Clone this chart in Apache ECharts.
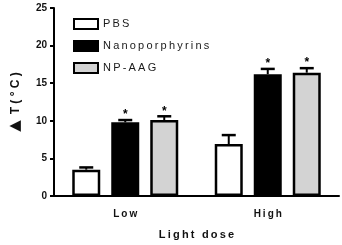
<!DOCTYPE html>
<html>
<head>
<meta charset="utf-8">
<script src="https://cdn.jsdelivr.net/npm/echarts@6/dist/echarts.min.js"></script>
<style>
  html, body { margin: 0; padding: 0; background: #fff; }
  #chart { width: 342px; height: 245px; }
</style>
</head>
<body>
<div id="chart"></div>
<script>
// data
var categories = ["Low", "High"];
var seriesNames = ["PBS", "Nanoporphyrins", "NP-AAG"];
var pbs = [3.5, 6.9];
var pbsErr = [0.3, 1.2];
var nano = [9.8, 16.2];
var nanoErr = [0.3, 0.7];
var npaag = [10.1, 16.4];
var npaagErr = [0.5, 0.6];
var nanoStar = [true, true];
var npaagStar = [true, true];
var yTicks = [0, 5, 10, 15, 20, 25];

var FONT = "Liberation Sans";
var barW = 28;
var barGapPx = 11;

// spread letters a bit, like the original figure
function spaced(s) {
    return s.split("").join("\u2009");
}

var myChart = echarts.init(document.getElementById("chart"));

function errSeries(name, vals, errs, stars, k) {
    var data = vals.map(function(v, i) {
        return [i, v, errs[i], stars && stars[i] ? 1 : 0];
    });
    return {
        name: name + "-err",
        type: "custom",
        z: 5,
        data: data,
        renderItem: function(params, api) {
            var i = api.value(0);
            var v = api.value(1);
            var e = api.value(2);
            var top = api.coord([i, v]);
            var cap = api.coord([i, v + e]);
            var x = top[0] + k * (barW + barGapPx);
            var kids = [
                { type: "line", shape: { x1: x, y1: top[1], x2: x, y2: cap[1] },
                  style: { stroke: "#000", lineWidth: 2 } },
                { type: "line", shape: { x1: x - 7, y1: cap[1], x2: x + 7, y2: cap[1] },
                  style: { stroke: "#000", lineWidth: 2.5 } }
            ];
            if (api.value(3)) {
                kids.push({ type: "text", style: { text: "*", x: x, y: cap[1] - 5,
                    fill: "#000", font: "bold 12px " + FONT, align: "center", verticalAlign: "middle" } });
            }
            return { type: "group", children: kids };
        }
    };
}

var option = {
    animation: false,
    grid: { left: 52, right: 3, top: 8, bottom: 47 },
    legend: {
        orient: "vertical",
        left: 73,
        top: 18,
        padding: 0,
        icon: "rect",
        itemWidth: 24,
        itemHeight: 10,
        itemGap: 10,
        data: seriesNames,
        formatter: function(n) { return spaced(n); },
        textStyle: { fontFamily: FONT, fontSize: 11, color: "#1a1a1a" }
    },
    xAxis: {
        type: "category",
        data: categories,
        name: spaced("Light dose"),
        nameLocation: "middle",
        nameGap: 33,
        nameTextStyle: { fontFamily: FONT, fontSize: 11, fontWeight: "bold", color: "#111" },
        axisLine: { lineStyle: { color: "#000", width: 2 } },
        axisTick: { alignWithLabel: true, length: 5, lineStyle: { color: "#000", width: 2 } },
        axisLabel: {
            fontFamily: FONT, fontSize: 10, fontWeight: "bold", color: "#111", margin: 13,
            formatter: function(v) { return spaced(v); }
        }
    },
    yAxis: {
        type: "value",
        min: yTicks[0],
        max: yTicks[yTicks.length - 1],
        interval: 5,
        name: "{tri|\u25B2}T ( ° C )",
        nameLocation: "middle",
        nameRotate: 90,
        nameGap: 31,
        nameTextStyle: {
            fontFamily: FONT, fontSize: 12, fontWeight: "bold", color: "#111",
            rich: { tri: { fontFamily: "DejaVu Sans", fontSize: 15, color: "#111", padding: [0, 6, 0, 0] } }
        },
        splitLine: { show: false },
        axisLine: { show: true, lineStyle: { color: "#000", width: 2 } },
        axisTick: { show: true, length: 4, lineStyle: { color: "#000", width: 2 } },
        axisLabel: { fontFamily: FONT, fontSize: 10, fontWeight: "bold", color: "#111", margin: 7 }
    },
    series: [
        { name: seriesNames[0], type: "bar", data: pbs, barWidth: barW, barGap: (barGapPx / barW * 100) + "%",
          itemStyle: { color: "#fff", borderColor: "#000", borderWidth: 2.5 } },
        { name: seriesNames[1], type: "bar", data: nano, barWidth: barW, barGap: (barGapPx / barW * 100) + "%",
          itemStyle: { color: "#000", borderColor: "#000", borderWidth: 2.5 } },
        { name: seriesNames[2], type: "bar", data: npaag, barWidth: barW, barGap: (barGapPx / barW * 100) + "%",
          itemStyle: { color: "#d3d3d3", borderColor: "#000", borderWidth: 2.5 } },
        errSeries(seriesNames[0], pbs, pbsErr, null, -1),
        errSeries(seriesNames[1], nano, nanoErr, nanoStar, 0),
        errSeries(seriesNames[2], npaag, npaagErr, npaagStar, 1)
    ]
};

myChart.setOption(option);
</script>
</body>
</html>
